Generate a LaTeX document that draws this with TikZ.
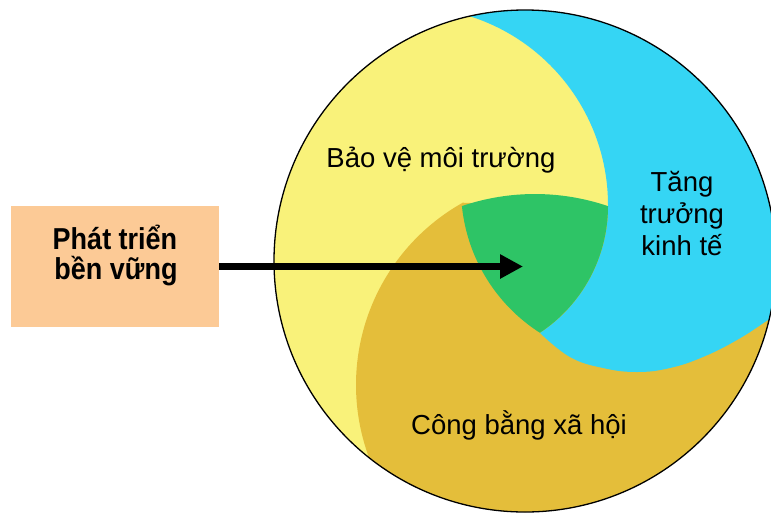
\documentclass[tikz,border=0pt]{standalone}
\usepackage{fontspec}
\setmainfont{Liberation Sans}
\usetikzlibrary{arrows.meta}
\definecolor{cyel}{HTML}{F9F27A}
\definecolor{cblue}{HTML}{35D5F4}
\definecolor{cgold}{HTML}{E4BE3A}
\definecolor{cgreen}{HTML}{2EC466}
\definecolor{cpeach}{HTML}{FCCA96}
\tikzset{
  lbl/.style={anchor=base, inner sep=0pt, font=\fontsize{27.5}{33}\selectfont},
  blbl/.style={anchor=base, inner sep=0pt, font=\fontsize{27}{32}\selectfont\bfseries},
  boxstyle/.style={fill=cpeach, minimum width=208pt, minimum height=121pt, inner sep=0pt},
  bigarrow/.style={line width=7pt, -{Triangle[length=23pt,width=23pt]}}
}
\begin{document}
\begin{tikzpicture}[x=1pt,y=-1pt]
\useasboundingbox (0,0) rectangle (771,512);
\fill[white] (0,0) rectangle (771,512);
% disk with the three regions
\begin{scope}
  \clip (525,261) circle[radius=251pt];
  \fill[cyel] (250,0) rectangle (800,520);
  % social equity (gold)
  \fill[cgold] (404.9,560) -- (404.9,519.3) arc[start angle=-140, end angle=-240.7, radius=209pt]
     -- (608,208) -- (800,208) -- (800,560) -- cycle;
  % economic growth (blue)
  \fill[cblue] (608,205) arc[start angle=0, end angle=80, radius=198pt] -- (444,-20) -- (800,-20)
     -- plot[smooth, tension=0.7] coordinates {(800,298) (768,320) (737,340) (703,357) (670,368) (637,372) (603,368) (570,357) (540,333)}
     arc[start angle=-56.5, end angle=0, radius=152pt] -- cycle;
  % sustainable development (green)
  \fill[cgreen] (462.1,206) arc[start angle=108.7, end angle=71.1, radius=227pt]
     -- (608,206) arc[start angle=0, end angle=-56.5, radius=152pt]
     arc[start angle=-122.6, end angle=-174.3, radius=171pt] -- cycle;
\end{scope}
\node[circle, draw=black, line width=1.3pt, minimum size=502pt, inner sep=0pt] (disk) at (525,261) {};
% labels
\node[lbl] (env) at (441,167) {Bảo vệ môi trường};
\node[lbl] (eco1) at (682,191) {Tăng};
\node[lbl] (eco2) at (682,223) {trưởng};
\node[lbl] (eco3) at (682,255) {kinh tế};
\node[lbl] (soc) at (519,434) {Công bằng xã hội};
% box
\node[boxstyle] (box) at (115,266.5) {};
\node[blbl] (box1) at (115,249) {\scalebox{1}[1.12]{Phát triển}};
\node[blbl] (box2) at (116,279) {\scalebox{1}[1.12]{bền vững}};
\coordinate (tip) at (523,266.5);
\draw[bigarrow] (box.east) -- (tip);
\end{tikzpicture}
\end{document}
